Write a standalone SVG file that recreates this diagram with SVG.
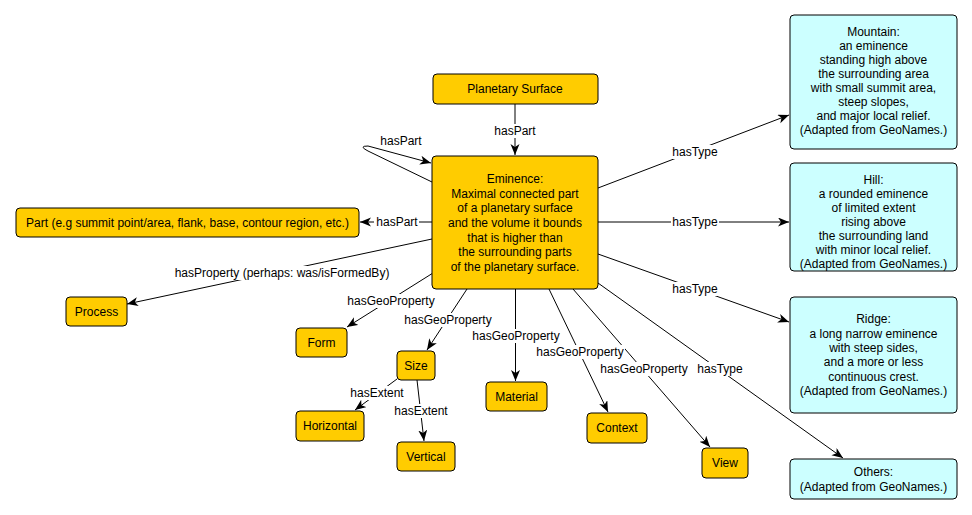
<svg xmlns="http://www.w3.org/2000/svg" width="972" height="515" viewBox="0 0 972 515">
<defs>
<style>
text{font-family:"Liberation Sans",Arial,sans-serif;font-size:12px;fill:#000;text-anchor:middle}
.o{fill:#FFCC00;stroke:#000;stroke-width:1}
.c{fill:#CCFFFF;stroke:#000;stroke-width:1}
.e{fill:none;stroke:#000;stroke-width:1}
.lb{fill:#fff;stroke:none}
</style>
<marker id="a" markerUnits="userSpaceOnUse" markerWidth="12" markerHeight="10" refX="11" refY="4.5" orient="auto">
<path d="M0,0 L11,4.5 L0,9 L3,4.5 z" fill="#000"/>
</marker>
</defs>
<rect width="972" height="515" fill="#fff"/>
<g id="edges">
<path class="e" d="M515,104 L515,155" marker-end="url(#a)"/>
<path class="e" d="M432,182 L368,151 Q358,146 368,146 L431,163" marker-end="url(#a)"/>
<path class="e" d="M432,222 L360,222" marker-end="url(#a)"/>
<path class="e" d="M432,239 L127,304" marker-end="url(#a)"/>
<path class="e" d="M433,273 L347,327" marker-end="url(#a)"/>
<path class="e" d="M467,289 L427,350" marker-end="url(#a)"/>
<path class="e" d="M515.5,289 L515.5,381" marker-end="url(#a)"/>
<path class="e" d="M549,289 L608,412" marker-end="url(#a)"/>
<path class="e" d="M573,289 L710,447" marker-end="url(#a)"/>
<path class="e" d="M598,283 L843,458" marker-end="url(#a)"/>
<path class="e" d="M598,254 L789,322" marker-end="url(#a)"/>
<path class="e" d="M598,222 L789,222" marker-end="url(#a)"/>
<path class="e" d="M598,188 L789,115" marker-end="url(#a)"/>
<path class="e" d="M397,379 L355,410" marker-end="url(#a)"/>
<path class="e" d="M417,380 L424,441" marker-end="url(#a)"/>
<g id="labels">
<rect class="lb" x="493" y="124" width="44" height="14"/><text x="515" y="135">hasPart</text>
<text x="401" y="145">hasPart</text>
<rect class="lb" x="374" y="215" width="45" height="14"/><text x="397" y="226">hasPart</text>
<rect class="lb" x="171" y="266" width="222" height="14"/><text x="282" y="277">hasProperty (perhaps: was/isFormedBy)</text>
<rect class="lb" x="346" y="294" width="90" height="14"/><text x="391" y="305">hasGeoProperty</text>
<rect class="lb" x="403" y="313" width="90" height="14"/><text x="448" y="324">hasGeoProperty</text>
<rect class="lb" x="471" y="329" width="90" height="14"/><text x="516" y="340">hasGeoProperty</text>
<rect class="lb" x="535" y="345" width="90" height="14"/><text x="580" y="356">hasGeoProperty</text>
<rect class="lb" x="599" y="362" width="90" height="14"/><text x="644" y="373">hasGeoProperty</text>
<rect class="lb" x="696" y="362" width="48" height="14"/><text x="720" y="373">hasType</text>
<rect class="lb" x="671" y="282" width="48" height="14"/><text x="695" y="293">hasType</text>
<rect class="lb" x="671" y="215" width="48" height="14"/><text x="695" y="226">hasType</text>
<rect class="lb" x="671" y="145" width="48" height="14"/><text x="695" y="156">hasType</text>
<rect class="lb" x="349" y="386" width="56" height="14"/><text x="377" y="397">hasExtent</text>
<rect class="lb" x="393" y="404" width="56" height="14"/><text x="421" y="415">hasExtent</text>
</g>
</g>
<g id="planetary-surface"><rect class="o" x="433" y="74" width="165" height="30" rx="4"/><text x="515" y="93">Planetary Surface</text></g>
<g id="eminence"><rect class="o" x="432" y="156" width="166" height="133" rx="4"/>
<text x="515" y="183">Eminence:</text>
<text x="515" y="197.7">Maximal connected part</text>
<text x="515" y="212.3">of a planetary surface</text>
<text x="515" y="227">and the volume it bounds</text>
<text x="515" y="241.7">that is higher than</text>
<text x="515" y="256.3">the surrounding parts</text>
<text x="515" y="271">of the planetary surface.</text>
</g>
<g id="part"><rect class="o" x="16" y="208" width="343" height="29" rx="4"/><text x="187.5" y="227">Part (e.g summit point/area, flank, base, contour region, etc.)</text></g>
<g id="process"><rect class="o" x="66" y="297" width="61" height="29" rx="4"/><text x="96.5" y="316">Process</text></g>
<g id="form"><rect class="o" x="296" y="328" width="51" height="29" rx="4"/><text x="321.5" y="347">Form</text></g>
<g id="size"><rect class="o" x="397" y="351" width="38" height="29" rx="4"/><text x="416" y="370">Size</text></g>
<g id="horizontal"><rect class="o" x="296" y="411" width="68" height="30" rx="4"/><text x="330" y="430">Horizontal</text></g>
<g id="vertical"><rect class="o" x="397" y="442" width="58" height="29" rx="4"/><text x="426" y="461">Vertical</text></g>
<g id="material"><rect class="o" x="486" y="382" width="61" height="29" rx="4"/><text x="516.5" y="401">Material</text></g>
<g id="context"><rect class="o" x="587" y="413" width="60" height="30" rx="4"/><text x="617" y="432">Context</text></g>
<g id="view"><rect class="o" x="702" y="448" width="46" height="30" rx="4"/><text x="725" y="467">View</text></g>
<g id="mountain"><rect class="c" x="790" y="15" width="167" height="134" rx="4"/>
<text x="873.5" y="36.3">Mountain:</text>
<text x="873.5" y="50.3">an eminence</text>
<text x="873.5" y="64.3">standing high above</text>
<text x="873.5" y="78.3">the surrounding area</text>
<text x="873.5" y="92.3">with small summit area,</text>
<text x="873.5" y="106.3">steep slopes,</text>
<text x="873.5" y="120.3">and major local relief.</text>
<text x="873.5" y="134.3">(Adapted from GeoNames.)</text>
</g>
<g id="hill"><rect class="c" x="790" y="163" width="167" height="108" rx="4"/>
<text x="873.5" y="184">Hill:</text>
<text x="873.5" y="198">a rounded eminence</text>
<text x="873.5" y="212">of limited extent</text>
<text x="873.5" y="226">rising above</text>
<text x="873.5" y="240">the surrounding land</text>
<text x="873.5" y="254">with minor local relief.</text>
<text x="873.5" y="268">(Adapted from GeoNames.)</text>
</g>
<g id="ridge"><rect class="c" x="790" y="297" width="167" height="116" rx="4"/>
<text x="873.5" y="323.3">Ridge:</text>
<text x="873.5" y="337.6">a long narrow eminence</text>
<text x="873.5" y="351.9">with steep sides,</text>
<text x="873.5" y="366.2">and a more or less</text>
<text x="873.5" y="380.5">continuous crest.</text>
<text x="873.5" y="394.8">(Adapted from GeoNames.)</text>
</g>
<g id="others"><rect class="c" x="790" y="459" width="167" height="40" rx="4"/>
<text x="873.5" y="476.3">Others:</text>
<text x="873.5" y="490.7">(Adapted from GeoNames.)</text>
</g>
</svg>
